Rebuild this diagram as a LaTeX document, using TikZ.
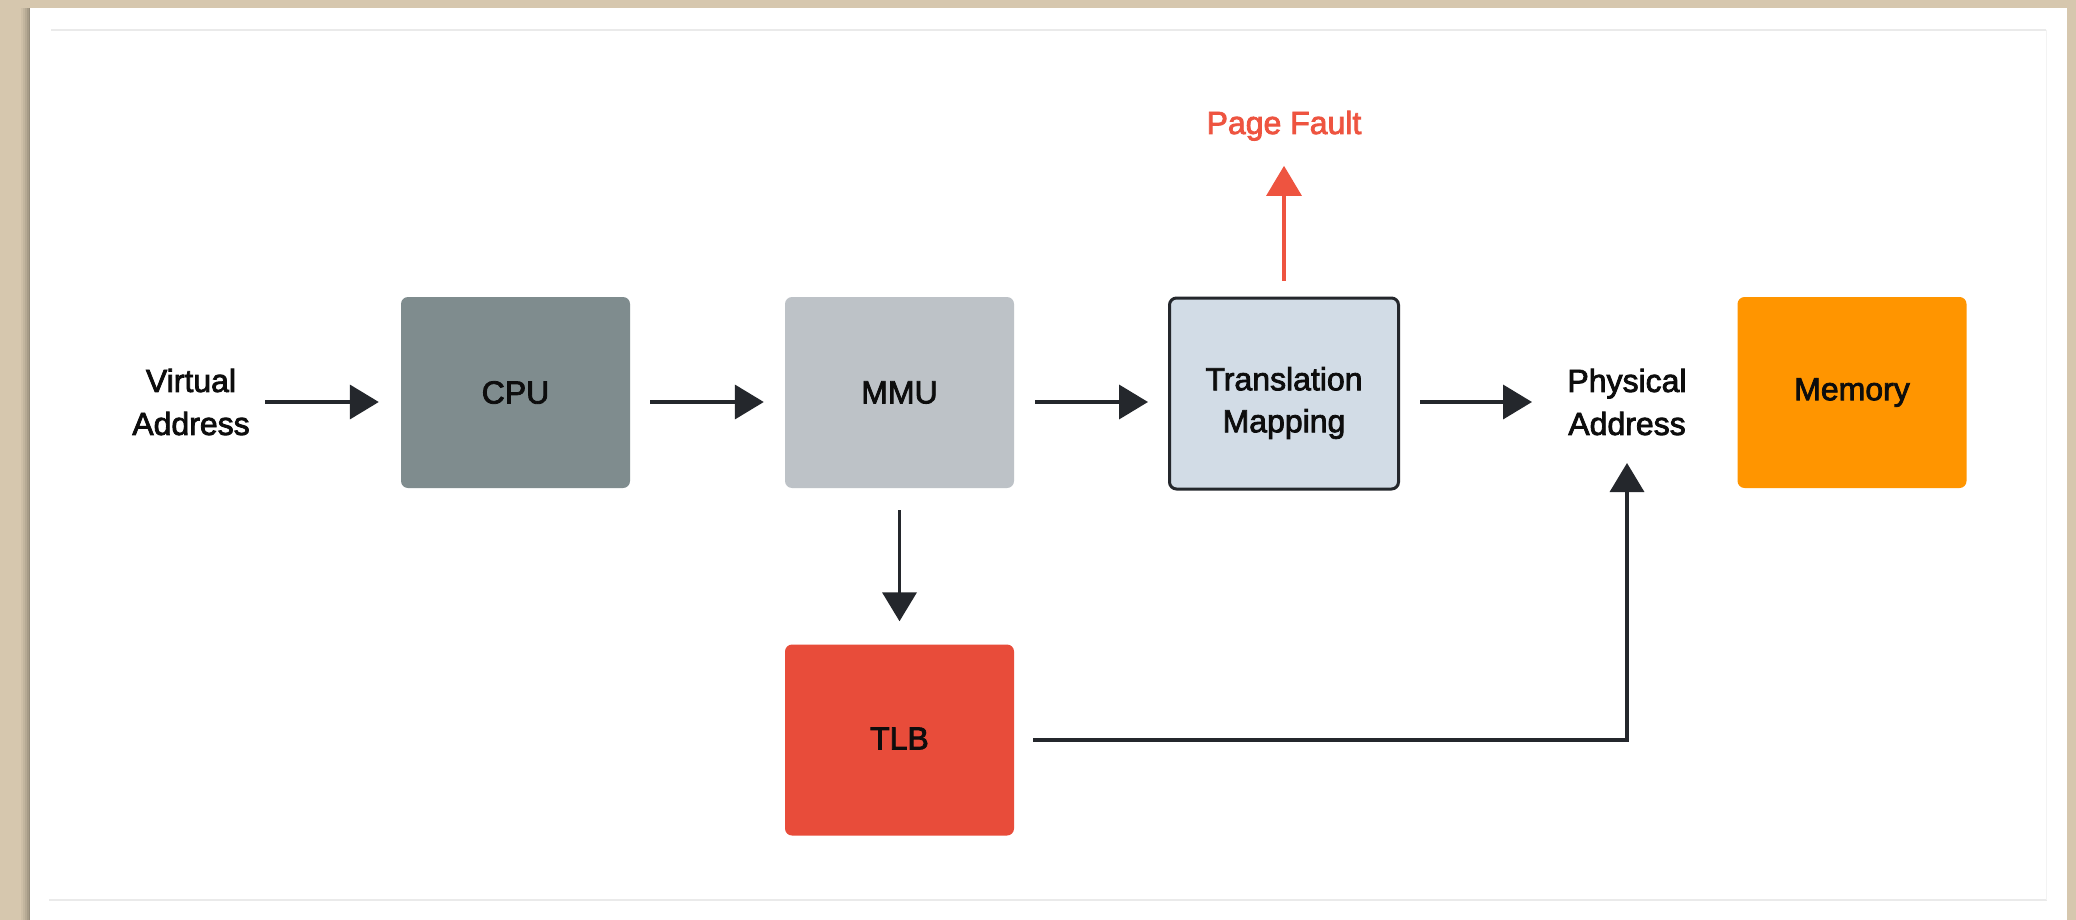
\documentclass[tikz,border=0pt]{standalone}
\usepackage{fontspec}
\setmainfont{Liberation Sans}
\newfontfamily\labelfont{Liberation Sans}[FakeBold=2.5]
\usetikzlibrary{arrows.meta}

\definecolor{paper}{RGB}{214,199,174}
\definecolor{cpugray}{RGB}{127,140,142}
\definecolor{mmugray}{RGB}{189,194,199}
\definecolor{mapblue}{RGB}{210,220,230}
\definecolor{memorange}{RGB}{255,149,0}
\definecolor{tlbred}{RGB}{232,76,58}
\definecolor{ink}{RGB}{36,39,44}
\definecolor{rulegray}{RGB}{234,234,234}
\definecolor{faultred}{RGB}{238,84,64}

\begin{document}
\begin{tikzpicture}[x=1pt,y=-1pt,
  block/.style={minimum width=229pt, minimum height=191pt, rounded corners=7pt,
    inner sep=0pt, align=center, text=black!95,
    font=\labelfont\fontsize{32}{42}\selectfont},
  plain/.style={align=center, inner sep=0pt, text=black!95,
    font=\labelfont\fontsize{32}{43}\selectfont},
  flow/.style={draw=ink, line width=3.8pt, -{Triangle[length=29pt,width=34pt]}},
  fault/.style={draw=faultred, line width=3.2pt, -{Triangle[length=30pt,width=35pt]}}
]
\useasboundingbox (0,0) rectangle (2076,920);

% page background and card
\fill[paper] (0,0) rectangle (2076,920);
\foreach \d/\o in {9/0.04,7/0.05,5/0.06,3/0.08,1.5/0.10}
  \fill[black,opacity=\o] (30-\d,8) rectangle (2067,920);
\fill[white] (30,8) rectangle (2067,920);
\draw[rulegray, line width=1.2pt] (51,30) -- (2046,30);
\draw[rulegray, line width=1.2pt] (49,900) -- (2047,900);
\draw[rulegray!60, line width=1pt] (2046,30) -- (2046,900);

% blocks
\node[block, fill=cpugray] (cpu) at (515.5,392.5) {CPU};
\node[block, fill=mmugray] (mmu) at (899.5,392.5) {MMU};
\node[block, fill=mapblue, draw=ink, line width=3pt,
  label={[plain, font=\labelfont\fontsize{32}{42}\selectfont, yshift=-9.5pt]center:Translation\\Mapping}]
  (map) at (1284,393.5) {};
\node[block, fill=memorange] (mem) at (1852,392.5) {Memory};
\node[block, fill=tlbred] (tlb) at (899.5,740) {\raisebox{3pt}{TLB}};

% free labels
\node[plain] (va) at (191,402) {Virtual\\Address};
\node[plain] (pa) at (1627,402) {Physical\\Address};
\node[plain, text=faultred, anchor=base] (pf) at (1284,134) {Page Fault};

% connectors
\draw[flow] ([xshift=74pt]va.center) -- ([xshift=-22pt]cpu.west |- va.center);
\draw[flow, shorten <=20pt, shorten >=21pt] (cpu.east |- va.center) -- (mmu.west |- va.center);
\draw[flow, shorten <=21pt, shorten >=20pt] (mmu.east |- va.center) -- (map.west |- va.center);
\draw[flow, shorten <=20pt] (map.east |- pa.center) -- ([xshift=-95pt]pa.center);
\draw[flow, shorten <=22pt, shorten >=23pt] (mmu.south) -- (tlb.north);
\draw[flow, line width=3.4pt, shorten <=19pt] (tlb.east) -| ([yshift=-61pt]pa.center);
\draw[fault, shorten <=16pt, shorten >=25pt] (map.north) -- (pf.south);
\end{tikzpicture}
\end{document}
